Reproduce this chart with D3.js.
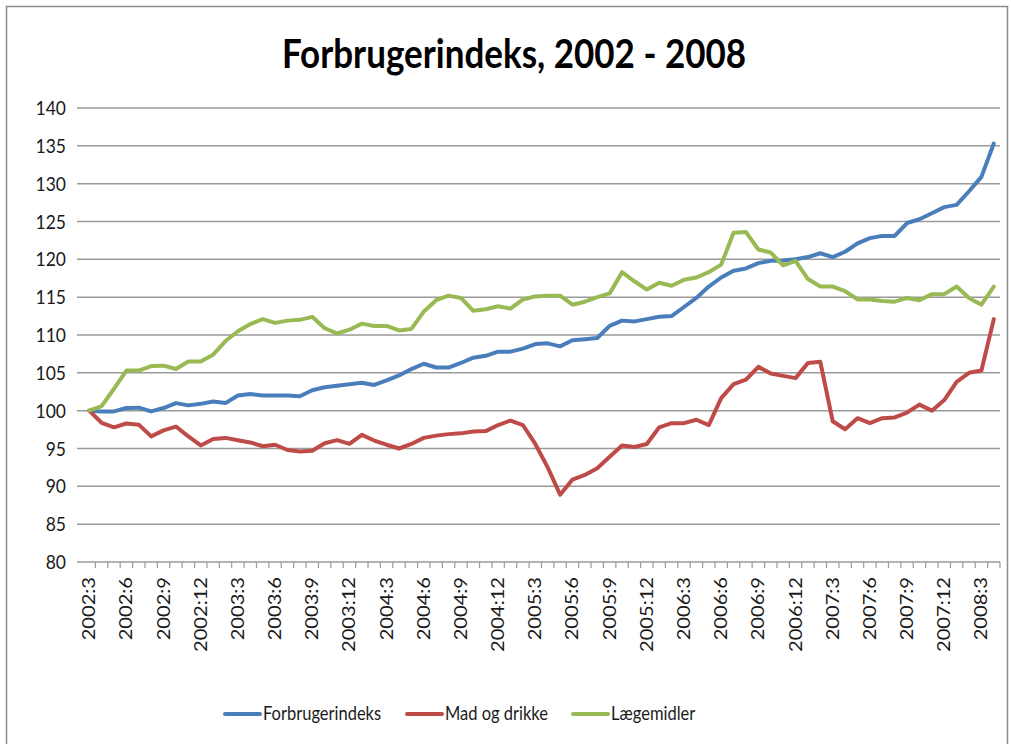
<!DOCTYPE html>
<html>
<head>
<meta charset="utf-8">
<script src="https://cdn.jsdelivr.net/npm/d3@7"></script>
<style>
  body { margin: 0; background: #fff; }
  text { font-family: Lato, "Open Sans", sans-serif; fill: #1a1a1a; }
</style>
</head>
<body>
<div id="root"></div>
<script>
// months 2002:3 .. 2008:4
var categories = [
  "2002:3","2002:4","2002:5","2002:6","2002:7","2002:8","2002:9","2002:10","2002:11","2002:12",
  "2003:1","2003:2","2003:3","2003:4","2003:5","2003:6","2003:7","2003:8","2003:9","2003:10","2003:11","2003:12",
  "2004:1","2004:2","2004:3","2004:4","2004:5","2004:6","2004:7","2004:8","2004:9","2004:10","2004:11","2004:12",
  "2005:1","2005:2","2005:3","2005:4","2005:5","2005:6","2005:7","2005:8","2005:9","2005:10","2005:11","2005:12",
  "2006:1","2006:2","2006:3","2006:4","2006:5","2006:6","2006:7","2006:8","2006:9","2006:10","2006:11","2006:12",
  "2007:1","2007:2","2007:3","2007:4","2007:5","2007:6","2007:7","2007:8","2007:9","2007:10","2007:11","2007:12",
  "2008:1","2008:2","2008:3","2008:4"
];

var forbrugerindeks = [
  100, 99.9, 99.9, 100.35, 100.4, 99.9, 100.35, 101.0, 100.7, 100.9,
  101.2, 101.0, 102.0, 102.2, 102.0, 102.0, 102.0, 101.9, 102.7, 103.1, 103.3, 103.5,
  103.7, 103.4, 104.0, 104.65, 105.5, 106.2, 105.7, 105.7, 106.3, 107.0, 107.25, 107.8,
  107.8, 108.2, 108.8, 108.9, 108.5, 109.3, 109.45, 109.6, 111.2, 111.9, 111.8, 112.1,
  112.4, 112.5, 113.7, 114.9, 116.4, 117.6, 118.5, 118.8, 119.5, 119.8, 119.85, 120.0,
  120.3, 120.8, 120.3, 121.0, 122.1, 122.8, 123.1, 123.1, 124.8, 125.3, 126.1, 126.9,
  127.2, 129.0, 130.9, 135.3
];

var madOgDrikke = [
  100, 98.4, 97.8, 98.3, 98.15, 96.6, 97.4, 97.9, 96.6, 95.4,
  96.25, 96.4, 96.1, 95.8, 95.3, 95.5, 94.8, 94.6, 94.7, 95.7, 96.1, 95.6,
  96.8, 96.05, 95.5, 95.0, 95.6, 96.4, 96.7, 96.9, 97.0, 97.25, 97.3, 98.1,
  98.7, 98.1, 95.6, 92.5, 88.9, 90.9, 91.5, 92.4, 93.9, 95.4, 95.2, 95.6,
  97.8, 98.35, 98.35, 98.8, 98.1, 101.65, 103.5, 104.1, 105.8, 104.9, 104.6, 104.3,
  106.3, 106.45, 98.6, 97.55, 99.0, 98.35, 99.0, 99.1, 99.75, 100.8, 100.0, 101.4,
  103.8, 105.0, 105.3, 112.1
];

var laegemidler = [
  100, 100.6, 102.9, 105.3, 105.3, 105.9, 105.95, 105.5, 106.5, 106.5,
  107.4, 109.2, 110.5, 111.45, 112.1, 111.6, 111.9, 112.0, 112.4, 110.9, 110.2, 110.7,
  111.5, 111.2, 111.2, 110.6, 110.8, 113.1, 114.6, 115.2, 114.9, 113.2, 113.4, 113.8,
  113.5, 114.7, 115.1, 115.2, 115.2, 114.0, 114.4, 115.0, 115.5, 118.3, 117.1, 116.0,
  116.9, 116.5, 117.3, 117.6, 118.3, 119.3, 123.5, 123.6, 121.3, 120.9, 119.2, 119.8,
  117.4, 116.4, 116.4, 115.8, 114.7, 114.7, 114.5, 114.4, 114.9, 114.6, 115.4, 115.4,
  116.4, 114.9, 114.0, 116.4
];

var seriesNames = ["Forbrugerindeks", "Mad og drikke", "Lægemidler"];
var seriesColors = ["#4a7ebb", "#be4b48", "#98b954"];
var yTicks = [80, 85, 90, 95, 100, 105, 110, 115, 120, 125, 130, 135, 140];
var labelEvery = 3;

var W = 1011, H = 744;
var stretch = 1.15; // reference text is a little taller than wide

var svg = d3.select("#root")
    .append("svg")
    .attr("width", W)
    .attr("height", H);

// frame
svg.append("rect")
    .attr("x", 6.5).attr("y", 6.5)
    .attr("width", 1001).attr("height", 760)
    .attr("fill", "#fff")
    .attr("stroke", "#8c8c8c")
    .attr("stroke-width", 1.5);

var x = d3.scaleBand()
    .domain(categories)
    .range([83, 1000])
    .paddingInner(0).paddingOuter(0);

var y = d3.scaleLinear()
    .domain([80, 140])
    .range([562, 108]);

function cx(d) { return x(d) + x.bandwidth() / 2; }

// title
svg.append("text")
    .attr("transform", "translate(514,68) scale(1," + stretch + ")")
    .attr("text-anchor", "middle")
    .style("font-size", "35px")
    .style("font-weight", "bold")
    .style("fill", "#000")
    .text("Forbrugerindeks, 2002 - 2008");

// gridlines + y labels
svg.selectAll("line.grid")
    .data(yTicks)
    .enter()
    .append("line")
    .attr("class", "grid")
    .attr("x1", 77)
    .attr("x2", 1000)
    .attr("y1", function (d) { return y(d); })
    .attr("y2", function (d) { return y(d); })
    .attr("stroke", "#9a9a9a")
    .attr("stroke-width", 1.5);

svg.selectAll("text.ylab")
    .data(yTicks)
    .enter()
    .append("text")
    .attr("class", "ylab")
    .attr("transform", function (d) {
        return "translate(66," + (y(d) + 7) + ") scale(1," + stretch + ")";
    })
    .attr("text-anchor", "end")
    .style("font-size", "17.5px")
    .text(function (d) { return d; });

// x ticks between categories
var bounds = categories.map(function (d) { return x(d) + x.bandwidth(); });
svg.selectAll("line.xtick")
    .data(bounds)
    .enter()
    .append("line")
    .attr("class", "xtick")
    .attr("x1", function (d) { return d; })
    .attr("x2", function (d) { return d; })
    .attr("y1", 562)
    .attr("y2", 568)
    .attr("stroke", "#9a9a9a")
    .attr("stroke-width", 1.2);

// x labels, rotated
svg.selectAll("text.xlab")
    .data(categories.filter(function (d, i) { return i % labelEvery === 0; }))
    .enter()
    .append("text")
    .attr("class", "xlab")
    .attr("transform", function (d) {
        return "translate(" + (cx(d) + 6) + ",577) rotate(-90) scale(" + stretch + ",1)";
    })
    .attr("text-anchor", "end")
    .style("font-size", "17.5px")
    .text(function (d) { return d; });

// lines
var allSeries = [forbrugerindeks, madOgDrikke, laegemidler];
var line = d3.line()
    .x(function (d, i) { return cx(categories[i]); })
    .y(function (d) { return y(d); });

svg.selectAll("path.series")
    .data(allSeries)
    .enter()
    .append("path")
    .attr("class", "series")
    .attr("d", line)
    .attr("fill", "none")
    .attr("stroke", function (d, i) { return seriesColors[i]; })
    .attr("stroke-width", 4)
    .attr("stroke-linejoin", "round")
    .attr("stroke-linecap", "round");

// legend
var legendX = [225, 407, 573];
var leg = svg.selectAll("g.leg")
    .data(seriesNames)
    .enter()
    .append("g")
    .attr("class", "leg")
    .attr("transform", function (d, i) { return "translate(" + legendX[i] + ",714)"; });

leg.append("line")
    .attr("x1", 0).attr("x2", 35)
    .attr("y1", 0).attr("y2", 0)
    .attr("stroke", function (d, i) { return seriesColors[i]; })
    .attr("stroke-width", 4)
    .attr("stroke-linecap", "round");

leg.append("text")
    .attr("transform", "translate(38,6) scale(1," + stretch + ")")
    .style("font-size", "16.5px")
    .text(function (d) { return d; });
</script>
</body>
</html>
